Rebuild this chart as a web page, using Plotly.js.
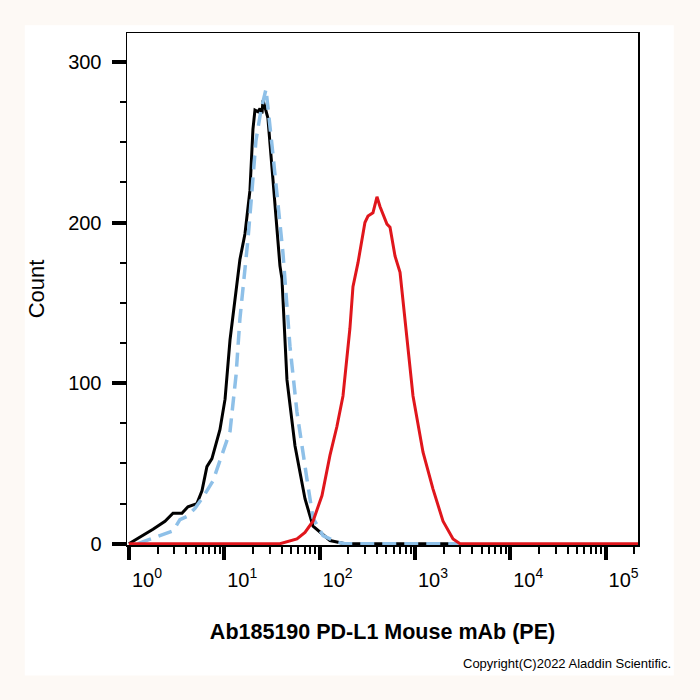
<!DOCTYPE html>
<html>
<head>
<meta charset="utf-8">
<script src="https://cdn.plot.ly/plotly-3.0.1.min.js"></script>
<style>html,body{margin:0;padding:0;background:#fdf9f5;}#chart{width:700px;height:700px;}</style>
</head>
<body>
<div id="chart"></div>
<script>
// Isotype / unstained control (black solid)
const blackX = [1.00, 1.30, 1.79, 2.39, 2.90, 3.60, 4.16, 5.17, 5.84, 6.58, 7.43, 9.01, 10.2, 11.5, 12.9, 14.6, 16.5, 18.6, 20.0, 21.0, 22.6, 23.7, 24.9, 25.5, 26.7, 28.7, 32.4, 35.7, 38.4, 40.3, 45.5, 55.2, 70.3, 85.3, 128.5, 185, 2950];
const blackY = [0, 4, 9, 14, 19, 19, 23, 25, 33, 48, 53, 71, 90, 127, 152, 177, 193, 220, 258, 270, 269, 271, 268, 276, 272, 265, 227, 196, 173, 165, 102, 61, 28, 11, 2, 0, 0];
// Second control (light blue dashed)
const blueX = [1.24, 1.55, 2.11, 2.90, 3.43, 4.06, 4.93, 5.98, 7.61, 9.69, 11.5, 13.3, 14.6, 16.1, 17.7, 19.5, 21.5, 24.3, 27.4, 31.7, 36.6, 41.3, 48.9, 57.9, 73.8, 85.3, 108.6, 152, 185, 2950];
const blueY = [0, 2, 5, 8, 15, 17, 22, 29, 39, 57, 70, 105, 140, 165, 189, 219, 251, 270, 283, 248, 210, 181, 123, 82, 40, 16, 5, 1, 0, 0];
// Ab185190 PD-L1 Mouse mAb (PE) stained (red)
const redX = [1.00, 38.4, 57.9, 70.3, 85.3, 106, 128.5, 152, 176, 208, 224, 253, 299, 322, 363, 400, 430, 474, 509, 548, 619, 698, 826, 955, 1216, 1549, 1972, 2512, 2973, 219000];
const redY = [0, 0, 3, 7, 14, 30, 55, 73, 92, 134, 160, 175, 200, 204, 206, 216, 210, 203, 199, 197, 179, 169, 129, 92, 57, 34, 14, 3, 0, 0];

const xMajorVals = [1, 10, 100, 1000, 10000, 100000];
const xMajorText = ['10<sup>0</sup>', '10<sup>1</sup>', '10<sup>2</sup>', '10<sup>3</sup>', '10<sup>4</sup>', '10<sup>5</sup>'];
const xMinorVals = [];
for (const d of [1, 10, 100, 1000, 10000, 100000]) {
  for (const m of [2, 3, 4, 5, 6, 7, 8, 9]) xMinorVals.push(d * m);
}
const yMajorVals = [0, 100, 200, 300];
const yMajorText = ['0', '100', '200', '300'];
const yMinorVals = [25, 50, 75, 125, 150, 175, 225, 250, 275];

const traces = [
  {x: blackX, y: blackY, type: 'scatter', mode: 'lines', line: {color: '#000000', width: 3}, hoverinfo: 'skip'},
  {x: blueX, y: blueY, type: 'scatter', mode: 'lines', line: {color: '#8ec0e8', width: 3.5, dash: '14px,8px'}, hoverinfo: 'skip'},
  {x: redX, y: redY, type: 'scatter', mode: 'lines', line: {color: '#e0161c', width: 3}, hoverinfo: 'skip'}
];

const layout = {
  width: 700, height: 700,
  paper_bgcolor: '#fdf9f5',
  plot_bgcolor: '#ffffff',
  showlegend: false,
  margin: {l: 127, r: 62, t: 33, b: 155},
  font: {family: 'Liberation Sans, Arial, sans-serif', color: '#000'},
  xaxis: {
    type: 'log', range: [-0.02, 5.34],
    tickmode: 'array', tickvals: xMajorVals, ticktext: xMajorText,
    ticks: 'outside', ticklen: 13, tickwidth: 4, tickcolor: '#000',
    ticklabelshift: 18, ticklabelstandoff: 3,
    tickfont: {size: 20, family: 'Liberation Sans, Arial, sans-serif'},
    minor: {tickmode: 'array', tickvals: xMinorVals, ticks: 'outside', ticklen: 7, tickwidth: 2, tickcolor: '#000', showgrid: false},
    showline: true, linecolor: '#000', linewidth: 1.5, mirror: true,
    showgrid: false, zeroline: false, automargin: false,
    title: {text: '<b>Ab185190 PD-L1 Mouse mAb (PE)</b>', font: {size: 21.5}, standoff: 34}
  },
  yaxis: {
    range: [-0.8, 318],
    tickmode: 'array', tickvals: yMajorVals, ticktext: yMajorText,
    ticks: 'outside', ticklen: 14, tickwidth: 4, tickcolor: '#000',
    ticklabelstandoff: 6,
    tickfont: {size: 20, family: 'Liberation Sans, Arial, sans-serif'},
    minor: {tickmode: 'array', tickvals: yMinorVals, ticks: 'outside', ticklen: 6, tickwidth: 2, tickcolor: '#000', showgrid: false},
    showline: true, linecolor: '#000', linewidth: 1.5, mirror: true,
    showgrid: false, zeroline: false, automargin: false,
    title: {text: 'Count', font: {size: 22}, standoff: 17}
  },
  shapes: [
    {type: 'rect', xref: 'paper', yref: 'paper', x0: -0.20, x1: 1.07, y0: -0.255, y1: 1.015, fillcolor: '#ffffff', line: {width: 0}, layer: 'below'}
  ],
  annotations: [
    {text: 'Copyright(C)2022 Aladdin Scientific.', xref: 'paper', yref: 'paper', x: 1.068, y: -0.231, xanchor: 'right', yanchor: 'middle', showarrow: false, font: {size: 13, color: '#000'}}
  ]
};

Plotly.newPlot('chart', traces, layout, {staticPlot: true, displayModeBar: false});
</script>
</body>
</html>
